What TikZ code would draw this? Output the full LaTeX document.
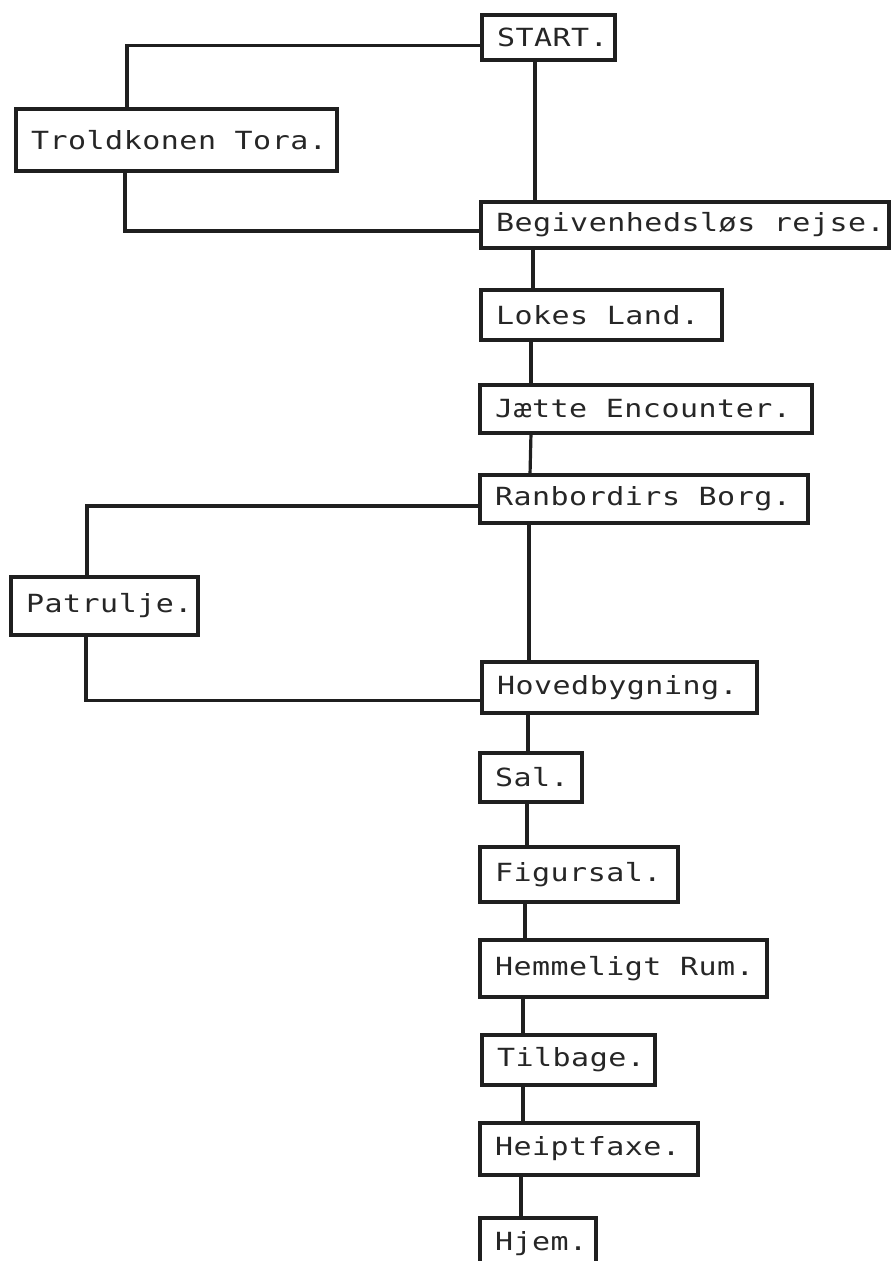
\documentclass[tikz,border=0pt]{standalone}
\usepackage{fontspec}
\newfontfamily\dmono[FakeStretch=1.2,LetterSpace=2]{DejaVu Sans Mono}
\begin{document}
\begin{tikzpicture}[x=1pt,y=-1pt,
  bx/.style 2 args={draw=black!88, line width=3.5pt, outer sep=0pt, inner xsep=15pt, inner ysep=0pt,
     anchor=north west, minimum width=#1, minimum height=#2, text=black!85,
     font=\dmono\fontsize{25}{29}\selectfont},
  conn/.style={draw=black!88, line width=3.2pt, line join=miter}]
\path[use as bounding box] (0,0) rectangle (891,1261);
\clip (0,0) rectangle (891,1261);

\node[bx={133pt}{45pt}] (start) at (482,15) {\makebox[103pt][l]{START.}};
\node[bx={321pt}{62pt}] (trold) at (16,109) {\makebox[291pt][l]{Troldkonen Tora.}};
\node[bx={408pt}{46pt}] (beg) at (481,202) {\makebox[378pt][l]{Begivenhedsløs rejse.}};
\node[bx={241pt}{50pt}] (lokes) at (481,290) {\makebox[211pt][l]{Lokes Land.}};
\node[bx={332pt}{48pt}] (jaette) at (480,385) {\makebox[302pt][l]{Jætte Encounter.}};
\node[bx={328pt}{48pt}] (ranb) at (480,475) {\makebox[298pt][l]{Ranbordirs Borg.}};
\node[bx={187pt}{58pt}] (patr) at (11,577) {\makebox[157pt][l]{Patrulje.}};
\node[bx={275pt}{51pt}] (hoved) at (482,662) {\makebox[245pt][l]{Hovedbygning.}};
\node[bx={102pt}{49pt}] (sal) at (480,753) {\makebox[72pt][l]{Sal.}};
\node[bx={198pt}{55pt}] (figur) at (480,847) {\makebox[168pt][l]{Figursal.}};
\node[bx={287pt}{57pt}] (hemm) at (480,940) {\makebox[257pt][l]{Hemmeligt Rum.}};
\node[bx={173pt}{50pt}] (tilb) at (482,1035) {\makebox[143pt][l]{Tilbage.}};
\node[bx={218pt}{52pt}] (heipt) at (480,1123) {\makebox[188pt][l]{Heiptfaxe.}};
\node[bx={116pt}{52pt}] (hjem) at (480,1218) {\makebox[86pt][l]{Hjem.}};

% spine
\draw[conn] ([xshift=53pt]start.south west) -- ([xshift=54pt]beg.north west);
\draw[conn] ([xshift=52pt]beg.south west) -- ([xshift=52pt]lokes.north west);
\draw[conn] ([xshift=50pt]lokes.south west) -- ([xshift=51pt]jaette.north west);
\draw[conn] ([xshift=51pt]jaette.south west) -- ([xshift=50pt]ranb.north west);
\draw[conn] ([xshift=49pt]ranb.south west) -- ([xshift=47pt]hoved.north west);
\draw[conn] ([xshift=46pt]hoved.south west) -- ([xshift=48pt]sal.north west);
\draw[conn] ([xshift=47pt]sal.south west) -- ([xshift=47pt]figur.north west);
\draw[conn] ([xshift=45pt]figur.south west) -- ([xshift=45pt]hemm.north west);
\draw[conn] ([xshift=43pt]hemm.south west) -- ([xshift=41pt]tilb.north west);
\draw[conn] ([xshift=41pt]tilb.south west) -- ([xshift=43pt]heipt.north west);
\draw[conn] ([xshift=41pt]heipt.south west) -- ([xshift=41pt]hjem.north west);

% side branches
\draw[conn] ([yshift=-8pt]start.west) -| ([xshift=111pt]trold.north west);
\draw[conn] ([xshift=109pt]trold.south west) |- ([yshift=-6pt]beg.west);
\draw[conn] ([yshift=-7pt]ranb.west) -| ([xshift=76pt]patr.north west);
\draw[conn] ([xshift=75pt]patr.south west) |- ([yshift=-13pt]hoved.west);
\end{tikzpicture}
\end{document}
